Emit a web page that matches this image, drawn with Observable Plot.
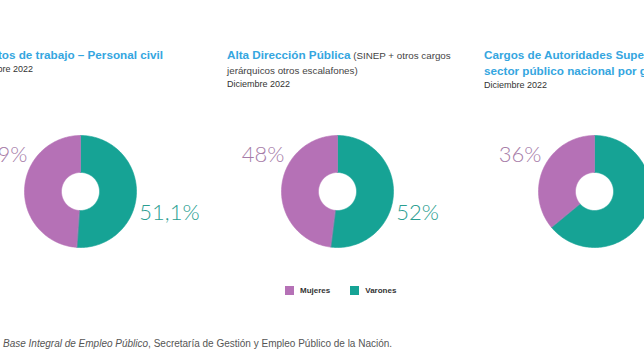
<!DOCTYPE html>
<html><head><meta charset="utf-8">
<script src="https://cdn.jsdelivr.net/npm/d3@7"></script>
<script src="https://cdn.jsdelivr.net/npm/@observablehq/plot@0.6"></script>
<style>
body{margin:0;background:#fff}
#frame{position:relative;width:644px;height:362px;overflow:hidden;background:#fff;font-family:"Liberation Sans",Arial,sans-serif}
.col{position:absolute;top:0;width:257px;height:300px}
.title{position:absolute;left:0;top:47px;font-size:9.8px;line-height:15px;color:#444;white-space:pre}
.title b{color:#35a6df;font-size:11.7px}
.sub{font-size:9px;line-height:13px;color:#333;display:block}
.plot{position:absolute;left:0;top:107px}
.leg{position:absolute;top:285px;left:285px;display:flex;align-items:center;font-size:8px;line-height:11px;font-weight:bold;color:#333}
.leg span.sw{display:inline-block;width:9px;height:9px;margin-right:6px}
.leg .item{display:flex;align-items:center;margin-right:20px}
.src{position:absolute;left:3px;top:337px;font-size:10px;line-height:13px;color:#555;white-space:nowrap}
</style></head>
<body><div id="frame"></div>
<script>
// ---- data ----
const categories = ["Mujeres", "Varones"];
const colors = ["#b571b6", "#16a395"];
const labelColors = ["#a67ca8", "#2a9e91"];
const titles = ["Puestos de trabajo – Personal civil", "Alta Dirección Pública", "Cargos de Autoridades Superiores del\nsector público nacional por género"];
const titleNotes = ["", " (SINEP + otros cargos\njerárquicos otros escalafones)", ""];
const subtitles = ["Diciembre 2022", "Diciembre 2022", "Diciembre 2022"];
const mujeres = [48.9, 48, 36];
const varones = [51.1, 52, 64];
const source = "Base Integral de Empleo Público";
const sourceRest = ", Secretaría de Gestión y Empleo Público de la Nación.";

const fmt = v => String(v).replace(".", ",") + "%";
const frame = document.getElementById("frame");
const colLeft = i => -30 + 257 * i;

function ring(values) {
  const rows = [{sex: "Varones", value: values[1]}, {sex: "Mujeres", value: values[0]}];
  const arcs = d3.pie().sort(null).value(d => d.value)(rows);
  const rIn = 0.34, rOut = 1, pts = [];
  for (const a of arcs) {
    const n = Math.max(2, Math.ceil((a.endAngle - a.startAngle) / (2 * Math.PI) * 240));
    for (let k = 0; k <= n; k++) {
      const t = a.startAngle + (a.endAngle - a.startAngle) * k / n;
      pts.push({sex: a.data.sex, x: rOut * Math.sin(t), y: rOut * Math.cos(t)});
    }
    for (let k = n; k >= 0; k--) {
      const t = a.startAngle + (a.endAngle - a.startAngle) * k / n;
      pts.push({sex: a.data.sex, x: rIn * Math.sin(t), y: rIn * Math.cos(t)});
    }
  }
  return pts;
}

titles.forEach((title, i) => {
  const col = document.createElement("div");
  col.className = "col";
  col.style.left = colLeft(i) + "px";
  const t = document.createElement("div");
  t.className = "title";
  const b = document.createElement("b");
  b.textContent = title;
  t.appendChild(b);
  if (titleNotes[i]) t.appendChild(document.createTextNode(titleNotes[i]));
  const s = document.createElement("span");
  s.className = "sub";
  s.textContent = subtitles[i];
  t.appendChild(s);
  col.appendChild(t);

  const vals = [mujeres[i], varones[i]];
  const pts = ring(vals);
  const k = 56;
  const chart = Plot.plot({
    width: 257, height: 168, margin: 0,
    x: {domain: [-110 / k, 147 / k], axis: null},
    y: {domain: [-84 / k, 84 / k], axis: null},
    color: {domain: categories, range: colors},
    marks: [
      Plot.line(pts, {x: "x", y: "y", z: "sex", fill: "sex", stroke: "sex", strokeWidth: 0.6, curve: "linear-closed"}),
      Plot.text([{sex: "Mujeres", v: vals[0]}], {x: () => -0.95, y: () => 0.66, text: d => fmt(d.v), textAnchor: "end", fill: labelColors[0], fontSize: 22, fontWeight: 300, fontFamily: "Lato, 'Open Sans', sans-serif"}),
      Plot.text([{sex: "Varones", v: vals[1]}], {x: () => 1.05, y: () => -0.375, text: d => fmt(d.v), textAnchor: "start", fill: labelColors[1], fontSize: 22, fontWeight: 300, fontFamily: "Lato, 'Open Sans', sans-serif"})
    ]
  });
  chart.classList.add("plot");
  col.appendChild(chart);
  frame.appendChild(col);
});

const leg = document.createElement("div");
leg.className = "leg";
categories.forEach((c, i) => {
  const it = document.createElement("div");
  it.className = "item";
  const sw = document.createElement("span");
  sw.className = "sw";
  sw.style.background = colors[i];
  it.appendChild(sw);
  it.appendChild(document.createTextNode(c));
  leg.appendChild(it);
});
frame.appendChild(leg);

const src = document.createElement("div");
src.className = "src";
const it = document.createElement("i");
it.textContent = source;
src.appendChild(it);
src.appendChild(document.createTextNode(sourceRest));
frame.appendChild(src);
</script></body></html>
